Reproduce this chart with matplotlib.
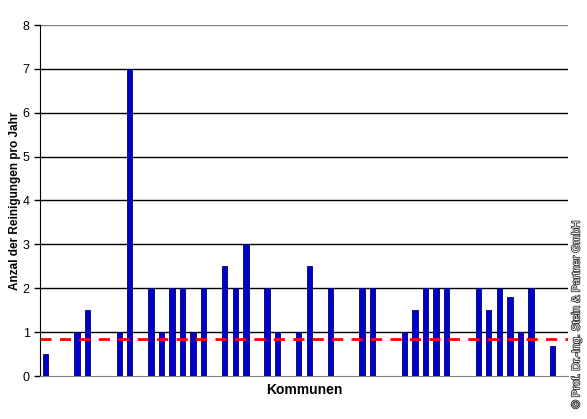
import numpy as np
import matplotlib
matplotlib.use('Agg')
import matplotlib.pyplot as plt
import matplotlib.patheffects as pe

plt.rcParams['font.family'] = ['Liberation Sans', 'DejaVu Sans']

# slot index of each municipality bar and its value (cleanings per year)
slots = [0, 3, 4, 7, 8, 10, 11, 12, 13, 14, 15, 17, 18, 19, 21, 22, 24, 25, 27,
         30, 31, 34, 35, 36, 37, 38, 41, 42, 43, 44, 45, 46, 48]
values = [0.5, 1, 1.5, 1, 7, 2, 1, 2, 2, 1, 2, 2.5, 2, 3, 2, 1, 1, 2.5, 2,
          2, 2, 1, 1.5, 2, 2, 2, 2, 1.5, 2, 1.8, 1, 2, 0.68]
n_slots = 50
mean_line = 0.84

fig = plt.figure(figsize=(5.87, 4.19), dpi=100)
ax = fig.add_axes([40/587, 43/419, 528/587, 351/419])

for yv in range(1, 8):
    ax.axhline(yv, color='black', lw=1, zorder=1)
ax.axhline(8, color='#808080', lw=1, zorder=1)

ax.bar(slots, values, width=0.5, color='#0000CC', edgecolor='#000066', lw=0.6, zorder=3)
ax.axhline(mean_line, color='#FF0000', lw=2, ls=(0, (4, 3)), zorder=4)

ax.set_xlim(-0.5, n_slots - 0.5)
ax.set_ylim(0, 8)
ax.set_yticks(range(0, 9))
ax.tick_params(axis='y', labelsize=9, length=4, direction='out', width=1)
ax.set_xticks([])

for s in ['top', 'right']:
    ax.spines[s].set_visible(False)
ax.spines['bottom'].set_color('#808080')
ax.spines['left'].set_color('black')

ax.set_xlabel('Kommunen', fontsize=10, fontweight='bold', labelpad=5)
ax.set_ylabel('Anzal der Reinigungen pro Jahr', fontsize=8.5, fontweight='bold')
ax.yaxis.set_label_coords(-0.036, 0.5)

fig.text(0.982, 0.25, '© Prof. Dr.-Ing. Stein & Partner GmbH', rotation=90,
         fontsize=8, ha='center', va='center', color='white',
         path_effects=[pe.withStroke(linewidth=1.2, foreground='#333333')])

fig.savefig('out.png', dpi=100)
